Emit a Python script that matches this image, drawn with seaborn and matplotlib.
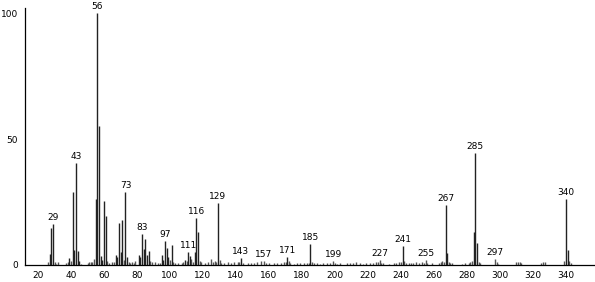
import matplotlib
matplotlib.use("Agg")
import matplotlib.pyplot as plt
import seaborn as sns
import pandas as pd
from matplotlib.ticker import MultipleLocator

# m/z and relative intensity of the main peaks
main_mz = [27, 28, 29, 39, 41, 42, 43, 44, 45, 55, 56, 57, 58, 59, 60, 61,
           67, 68, 69, 70, 71, 73, 74, 81, 82, 83, 84, 85, 86, 87, 95, 96, 97,
           98, 99, 101, 109, 111, 112, 115, 116, 117, 129, 143, 171, 185,
           241, 267, 268, 284, 285, 286, 340, 341]
main_int = [4.4, 14.8, 16.3, 2.9, 29.0, 6.0, 40.3, 5.5, 1.5, 26.2, 100.0, 55.2,
            3.5, 2.0, 25.5, 19.4, 4.0, 3.0, 16.5, 5.0, 17.9, 28.8, 3.0, 4.0,
            3.0, 12.3, 6.5, 10.3, 4.0, 5.5, 4.0, 2.0, 9.6, 6.6, 3.0, 8.0, 2.0,
            5.0, 3.5, 5.0, 18.5, 13.0, 24.7, 2.6, 3.2, 8.3, 7.7, 23.8, 4.6,
            13.0, 44.3, 8.6, 26.2, 6.0]

# small peaks
minor_mz = [26, 30, 31, 32, 37, 38, 40, 46, 50, 51, 52, 53, 54, 62, 63, 65, 66,
            72, 75, 76, 77, 78, 79, 88, 89, 91, 93, 94, 100, 102, 103, 105,
            107, 108, 110, 113, 114, 118, 119, 121, 123, 125, 126, 127, 128,
            130, 131, 133, 135, 137, 139, 141, 142, 144, 147, 149, 151, 153,
            155, 157, 158, 160, 163, 165, 167, 169, 170, 172, 173, 175, 177,
            179, 181, 183, 184, 186, 187, 189, 191, 193, 195, 197, 199, 200,
            201, 203, 207, 209, 211, 213, 215, 217, 219, 221, 223, 225, 226,
            227, 228, 229, 233, 236, 237, 239, 240, 242, 243, 245, 246, 247,
            249, 251, 253, 254, 255, 256, 259, 263, 264, 265, 266, 269, 270,
            271, 277, 279, 281, 282, 283, 287, 288, 297, 298, 299, 310, 311,
            312, 313, 325, 326, 327, 339, 342, 343]
minor_int = [1, 1, 0.5, 1.2, 0.8, 1, 1.5, 0.5, 0.6, 1, 1, 1.2, 2.5, 1.5, 0.8, 1,
             1.2, 2, 1, 0.6, 1, 0.7, 1.5, 1.5, 1, 1, 0.8, 0.8, 2, 1, 0.8, 0.6,
             0.8, 1, 1.5, 2.5, 1.2, 1.5, 1, 0.8, 1, 2.5, 1, 1.5, 1, 2, 0.8,
             0.6, 1, 0.8, 1, 1.2, 1, 0.8, 0.6, 0.8, 0.6, 1, 1.5, 1.5, 0.8, 0.6,
             0.8, 0.6, 0.8, 1, 1, 1.5, 0.8, 0.5, 0.6, 0.6, 0.8, 0.8, 0.6, 1,
             0.6, 0.8, 0.5, 0.6, 0.8, 0.6, 1.5, 0.6, 0.5, 0.6, 0.6, 0.8, 0.8,
             1, 0.6, 0.5, 0.6, 0.6, 0.8, 1, 1, 1.8, 0.8, 0.6, 0.5, 0.6, 0.8,
             1, 1, 1.5, 0.8, 0.6, 0.8, 0.8, 1, 0.8, 1, 0.6, 2, 0.8, 0.6, 0.6,
             1, 1.5, 1.2, 1, 0.8, 0.6, 0.5, 0.6, 0.8, 1, 1.5, 1, 0.6, 2.5, 1,
             0.5, 1, 1.2, 1, 0.6, 0.8, 1, 1, 1.5, 1.5, 0.6]

# labelled peaks
label_mz = [29, 43, 56, 73, 83, 97, 111, 116, 129, 143, 157, 171, 185, 199,
            227, 241, 255, 267, 285, 297, 340]

x_ticks = list(range(20, 341, 20))
y_ticks = [0, 50, 100]

df_main = pd.DataFrame({"mz": main_mz, "intensity": main_int})
df_minor = pd.DataFrame({"mz": minor_mz, "intensity": minor_int})
df = pd.concat([df_main, df_minor], ignore_index=True)
lookup = dict(zip(df["mz"], df["intensity"]))

sns.set_style("white")
plt.rcParams["font.family"] = ["DejaVu Sans"]

fig = plt.figure(figsize=(5.95, 2.82), dpi=100)
ax = fig.add_axes([25 / 595, 17 / 282, 570 / 595, 257 / 282])

ax.vlines(df_minor["mz"], 0, df_minor["intensity"], color="#555555", linewidth=1.0)
ax.vlines(df_main["mz"], 0, df_main["intensity"], color="#222222", linewidth=1.0)

for m in label_mz:
    ax.annotate(str(m), (m, lookup[m]), xytext=(0, 1.5), textcoords="offset points",
                ha="center", va="bottom", fontsize=6.5, color="black")

ax.set_xlim(12.1, 357.6)
ax.set_ylim(0, 102)
ax.set_xticks(x_ticks)
ax.set_yticks(y_ticks)
ax.xaxis.set_minor_locator(MultipleLocator(10))
ax.yaxis.set_minor_locator(MultipleLocator(25))
ax.tick_params(axis="both", which="major", labelsize=6.5, length=3, width=0.8,
               direction="out", pad=2, colors="black")
ax.tick_params(axis="x", which="minor", length=2, width=0.8, direction="inout")
ax.tick_params(axis="y", which="minor", length=2, width=0.8, direction="out")
ax.tick_params(axis="x", which="major", direction="inout", length=4)

sns.despine(ax=ax, top=True, right=True)
for s in ["left", "bottom"]:
    ax.spines[s].set_color("black")
    ax.spines[s].set_linewidth(0.9)

fig.savefig("out.png", dpi=100)
